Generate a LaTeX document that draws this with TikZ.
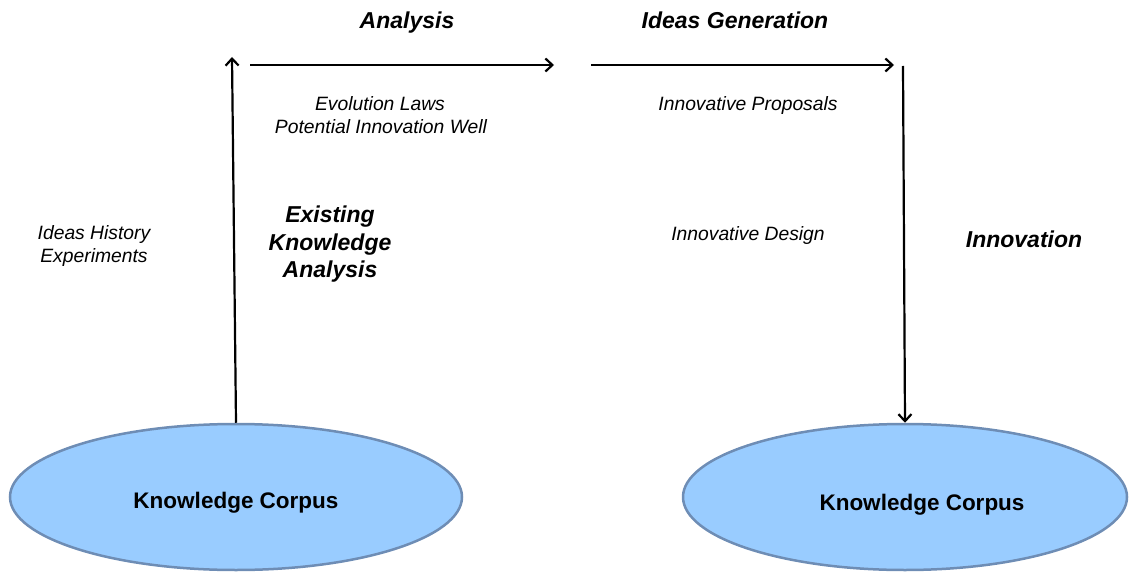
\documentclass[tikz,border=0pt]{standalone}
\usepackage{fontspec}
\setmainfont{Liberation Sans}
\usetikzlibrary{shapes.geometric,arrows.meta}
\definecolor{kcfill}{HTML}{99CCFF}
\definecolor{kcdraw}{HTML}{6E8DB5}
\tikzset{
  corpus/.style={ellipse,draw=kcdraw,line width=2.5pt,fill=kcfill,inner sep=0pt},
  flow/.style={line width=2.2pt,-{Straight Barb[length=7pt,width=13pt,line width=2.2pt]}},
  txt/.style={inner sep=0pt,text height=0.72em,text depth=0pt,yshift=-4.5pt},
  title/.style={txt,font=\fontsize{23}{27}\selectfont\bfseries\itshape},
  note/.style={txt,font=\fontsize{19.3}{23}\selectfont\itshape},
  corpustext/.style={txt,font=\fontsize{22.5}{27}\selectfont\bfseries}
}
\begin{document}
\begin{tikzpicture}[x=1pt,y=-1pt]
\useasboundingbox (0,0) rectangle (1129,572);
% ellipses
\node[corpus,minimum width=452pt,minimum height=146pt] (kc1) at (236,497) {};
\node[corpus,minimum width=444pt,minimum height=146pt] (kc2) at (905,497) {};
\node[corpustext] (kc1t) at (236,500) {Knowledge Corpus};
\node[corpustext] (kc2t) at (922,502) {Knowledge Corpus};
% free ends
\coordinate (upEnd) at (232,57);
\coordinate (a1s) at (250,65);
\coordinate (a1e) at (554,65);
\coordinate (a2s) at (591,65);
\coordinate (a2e) at (894,65);
\coordinate (dnStart) at (903,66);
% arrows
\draw[flow] (kc1.north) -- (upEnd);
\draw[flow] (a1s) -- (a1e);
\draw[flow] (a2s) -- (a2e);
\draw[flow] (dnStart) -- (kc2.north);
% texts
\node[title] (analysis) at (407,20) {Analysis};
\node[title] (ideasgen) at (735,20) {Ideas Generation};
\node[note] (evol) at (380,102) {Evolution Laws};
\node[note] (piw) at (381,125) {Potential Innovation Well};
\node[note] (prop) at (748,102) {Innovative Proposals};
\node[note] (hist) at (94,231) {Ideas History};
\node[note] (exper) at (94,254) {Experiments};
\node[title] (eka1) at (330,214) {Existing};
\node[title] (eka2) at (330,242) {Knowledge};
\node[title] (eka3) at (330,269) {Analysis};
\node[note] (design) at (748,232) {Innovative Design};
\node[title] (innov) at (1024,239) {Innovation};
\end{tikzpicture}
\end{document}
